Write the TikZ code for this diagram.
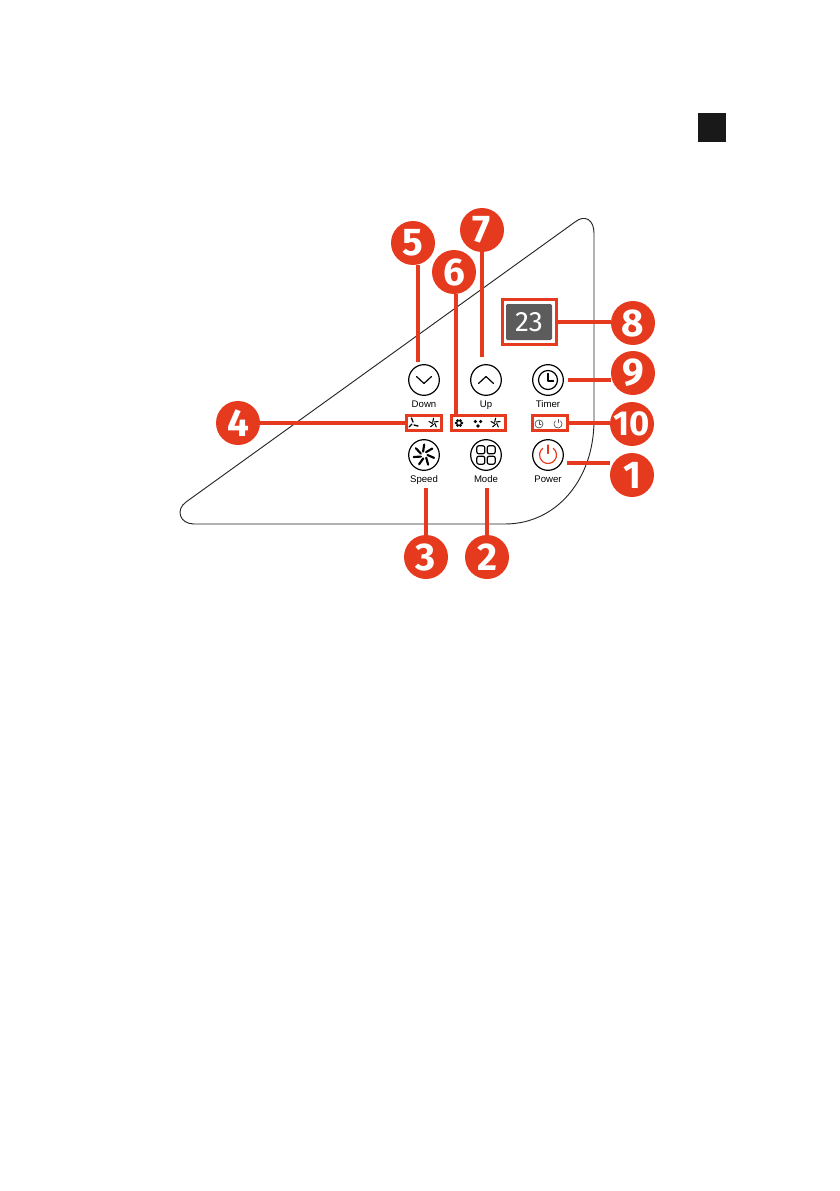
\documentclass[tikz,border=0pt]{standalone}
\usepackage{fontspec}
\setmainfont{Liberation Sans}
\newfontfamily\badgefont{Fira Sans}
\definecolor{badgered}{RGB}{230,58,30}
\definecolor{screengrey}{RGB}{92,92,92}
\tikzstyle{panel} = [line width=0.7pt, draw=black!85]
\tikzstyle{button} = [circle, minimum size=23pt, inner sep=0pt, draw=black, line width=0.9pt]
\tikzstyle{caption} = [font=\fontsize{7.2}{8}\selectfont, inner sep=1.5pt, label distance=1.5pt, text height=5.4pt]
\tikzstyle{badge} = [circle, minimum size=33pt, inner sep=0pt, fill=badgered, text=white, font=\badgefont\bfseries\fontsize{29}{29}\selectfont]
\tikzstyle{lampbox} = [rectangle, minimum height=11.2pt, inner sep=0pt, draw=badgered, line width=2.5pt]
\tikzstyle{leader} = [line width=2.6pt, draw=badgered]
\tikzstyle{glyph} = [line width=0.9pt, draw=black, line cap=round, line join=round]
\tikzstyle{lamp} = [line width=0.8pt, draw=black, line cap=round, line join=round]
\tikzset{
    starfan/.pic={\foreach \a in {10,82,154,226,298} \draw [lamp] (0,0) ++(\a:1.2) .. controls (\a+20:3) .. (\a+45:4.8);},
    lampclock/.pic={\draw [lamp, line width=0.5pt, draw=black!70] (0,0) circle (4); \draw [lamp, line width=0.5pt, draw=black!70] (0,-2.5) -- (0,0) -- (2,0);},
    lamppower/.pic={\draw [lamp, line width=0.5pt, draw=black!70] (-50:4) arc (-50:230:4); \draw [lamp, line width=0.5pt, draw=black!70] (0,-4.5) -- (0,-1.5);}
}

\begin{document}
\begin{tikzpicture}[x=0.75pt, y=-0.75pt, node distance=46.5pt]
    \useasboundingbox (0,0) rectangle (839,1191);
    \fill [black!90] (698,113) rectangle (726,142);
    \draw [panel] (186,502) -- (575,222) .. controls (585,214) and (594,220) .. (594,233) -- (594,420) .. controls (594,480) and (556,524) .. (505,524) -- (194,524) .. controls (180,524) and (175,510) .. (186,502) -- cycle;

    % buttons
    \node (down) [button, label={[caption]below:Down}] at (424,380) {};
    \node (up) [button, label={[caption]below:Up}, right of=down] {};
    \node (timer) [button, label={[caption]below:Timer}, right of=up] {};
    \node (speed) [button, label={[caption]below:Speed}] at (424,455) {};
    \node (mode) [button, label={[caption]below:Mode}, right of=speed] {};
    \node (power) [button, label={[caption]below:Power}, right of=mode] {};

    \draw [glyph] ([shift={(-7.5,-3.5)}]down.center) -- ([shift={(0,3.5)}]down.center) -- ([shift={(7.5,-3.5)}]down.center);
    \draw [glyph] ([shift={(-7.5,3.5)}]up.center) -- ([shift={(0,-3.5)}]up.center) -- ([shift={(7.5,3.5)}]up.center);
    \begin{scope}[shift={(timer)}]
        \draw [glyph] (0,0) circle (9.5);
        \draw [glyph] (0,-6.5) -- (0,1) -- (5.5,1);
    \end{scope}
    \begin{scope}[shift={(power)}]
        \draw [glyph, draw=badgered] (-52:8.5) arc (-52:232:8.5);
        \draw [glyph, draw=badgered] (0,-10) -- (0,-1.5);
    \end{scope}
    \begin{scope}[shift={(mode)}]
        \foreach \x in {-5.2,5.2} \foreach \y in {-5.2,5.2}
            \draw [glyph, rounded corners=1.5pt] (\x-4,\y-4) rectangle (\x+4,\y+4);
    \end{scope}
    \begin{scope}[shift={(speed)}]
        \foreach \a in {0,51,...,308}
            \draw [glyph, line width=1.6pt] (\a:3.5) .. controls (\a+6:7) .. (\a+16:10.5);
    \end{scope}

    % lamps
    \node (box4) [lampbox, minimum width=26.5pt] at (424,423) {};
    \node (box6) [lampbox, minimum width=40.5pt] at (478.5,423) {};
    \node (box10) [lampbox, minimum width=26.5pt] at (550,423) {};
    \pic at (433.5,423) {starfan};
    \pic at (495.5,423) {starfan};
    \pic at (539,424) {lampclock};
    \pic at (558,424) {lamppower};
    \begin{scope}[shift={(413,423)}]
        \draw [lamp, line width=1pt] (0,-1) -- (-1.5,-5) (-1,1) -- (-4,4) (1,2) -- (5,3);
    \end{scope}
    \begin{scope}[shift={(459,423)}]
        \foreach \a in {0,60,...,300} \fill (\a:2.8) circle (1.6);
    \end{scope}
    \begin{scope}[shift={(478,423)}]
        \foreach \a in {-150,-30,90} \fill (\a:3) circle (1.8);
    \end{scope}

    % display
    \node (box8) [lampbox, minimum width=40.5pt, minimum height=33.5pt] at (529.5,322) {};
    \node (screen) [rectangle, rounded corners=1pt, minimum width=34.5pt, minimum height=27pt, inner sep=0pt, fill=screengrey, text=white, font=\badgefont\fontsize{21}{21}\selectfont] at (529,322) {23};

    % numbered badges
    \node (badge1) [badge] at (632,475) {1};
    \node (badge2) [badge] at (487,557) {2};
    \node (badge3) [badge] at (426,557) {3};
    \node (badge4) [badge] at (238,423) {4};
    \node (badge5) [badge] at (413,243) {5};
    \node (badge6) [badge] at (454,272) {6};
    \node (badge7) [badge] at (482,230) {7};
    \node (badge8) [badge] at (633,323) {8};
    \node (badge9) [badge] at (633,373) {9};
    \node (badge10) [badge, font=\badgefont\bfseries\fontsize{26}{26}\selectfont] at (632,424) {10};

    \coordinate (end1) at (567,463);
    \coordinate (end2) at (487,488);
    \coordinate (end3) at (426,488);
    \coordinate (end5) at (418,362);
    \coordinate (end6) at (456,272);
    \coordinate (end7) at (482,357);
    \coordinate (end9) at (568,380);

    \draw [leader] (end1) -- (end1 -| badge1.west);
    \draw [leader] (end2) -- (badge2.north);
    \draw [leader] (end3) -- (badge3.north);
    \draw [leader] (badge4.east) -- (box4.west);
    \draw [leader] (end5) -- (end5 |- badge5.south);
    \draw [leader] (end6 |- badge6.south) -- (end6 |- box6.north);
    \draw [leader] (end7) -- (badge7.south);
    \draw [leader] (box8.east) -- (box8.east -| badge8.west);
    \draw [leader] (end9) -- (end9 -| badge9.west);
    \draw [leader] (box10.east) -- (box10.east -| badge10.west);
\end{tikzpicture}
\end{document}
